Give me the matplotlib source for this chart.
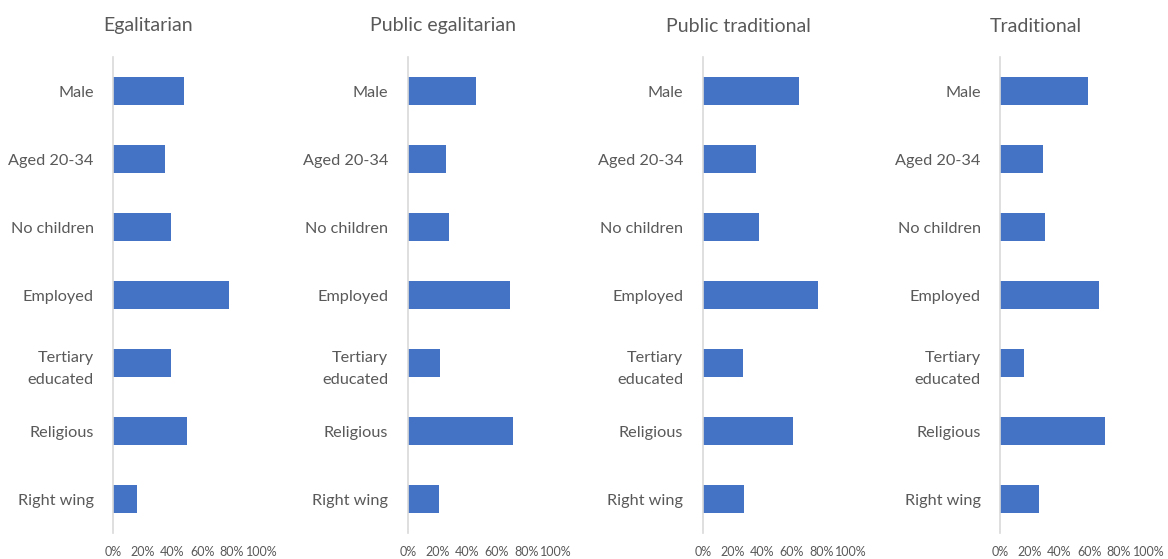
import matplotlib.pyplot as plt
import numpy as np

categories = ['Male', 'Aged 20-34', 'No children', 'Employed',
              'Tertiary\neducated', 'Religious', 'Right wing']
titles = ['Egalitarian', 'Public egalitarian', 'Public traditional', 'Traditional']

egalitarian = [0.48, 0.35, 0.39, 0.78, 0.39, 0.50, 0.16]
public_egalitarian = [0.46, 0.26, 0.28, 0.69, 0.22, 0.71, 0.21]
public_traditional = [0.65, 0.36, 0.38, 0.78, 0.27, 0.61, 0.28]
traditional = [0.595, 0.29, 0.30, 0.665, 0.16, 0.705, 0.26]

tick_values = [0, 0.2, 0.4, 0.6, 0.8, 1.0]
tick_labels = ['0%', '20%', '40%', '60%', '80%', '100%']

BAR = '#4472C4'
TEXT = '#595959'
AXIS = '#D9D9D9'

plt.rcParams['font.family'] = ['Lato', 'DejaVu Sans']

W, H = 1168, 559
fig = plt.figure(figsize=(W / 100, H / 100), dpi=100)

axes_left = [113.3, 407.7, 702.7, 1000.3]
title_x = [148, 443, 738, 1036]
series = [egalitarian, public_egalitarian, public_traditional, traditional]

y = np.arange(len(categories))
for left, tx, title, vals in zip(axes_left, title_x, titles, series):
    ax = fig.add_axes([left / W, (H - 533) / H, 148 / W, 476 / H])
    ax.barh(y, vals, height=0.41, color=BAR)
    ax.set_xlim(0, 1)
    ax.set_ylim(len(categories) - 0.5, -0.5)
    ax.set_yticks(y)
    ax.set_yticklabels(categories, fontsize=11.7, color=TEXT, linespacing=1.8)
    ax.set_xticks(tick_values)
    ax.set_xticklabels(tick_labels, fontsize=9, color=TEXT)
    ax.tick_params(axis='y', length=0, pad=14)
    ax.tick_params(axis='x', length=0, pad=9)
    for s in ['top', 'right', 'bottom']:
        ax.spines[s].set_visible(False)
    ax.spines['left'].set_color(AXIS)
    ax.spines['left'].set_linewidth(1.2)
    fig.text(tx / W, 1 - 26 / H, title, ha='center', va='center',
             fontsize=14, color=TEXT)

fig.savefig('out.png', dpi=100, facecolor='white')
